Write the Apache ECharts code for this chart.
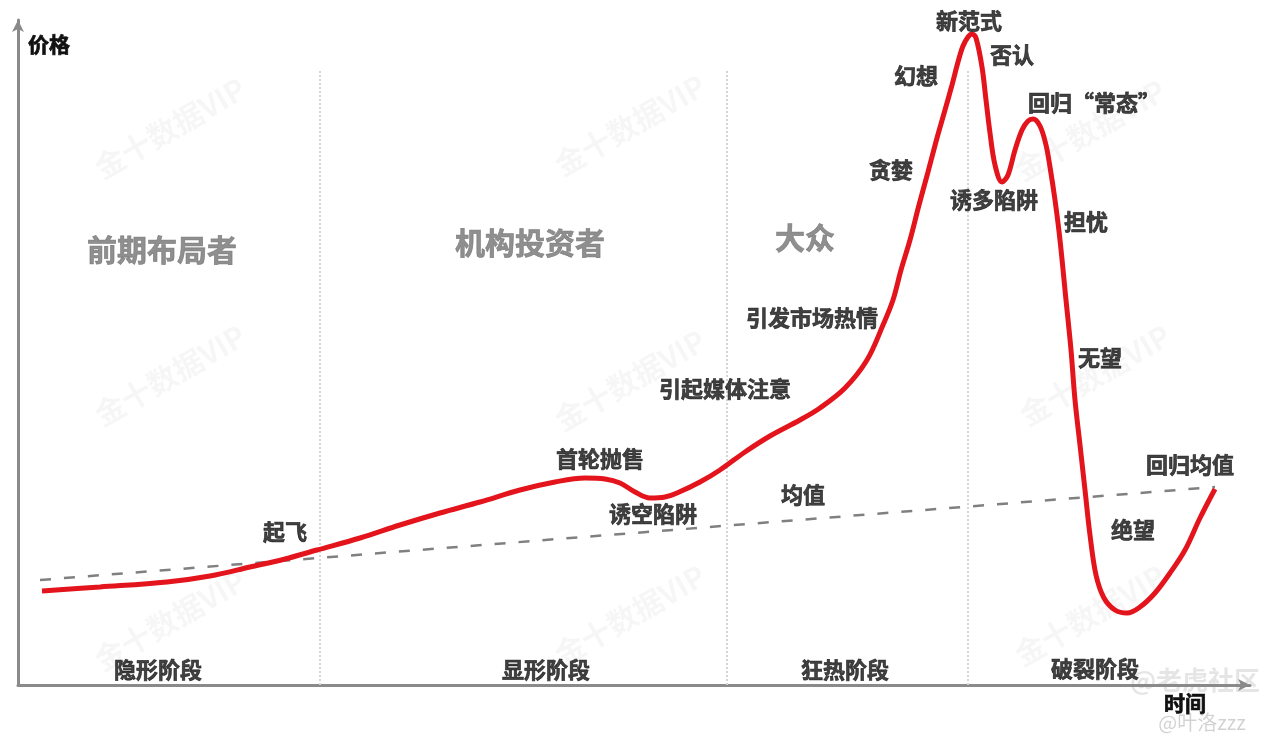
<!DOCTYPE html>
<html>
<head>
<meta charset="utf-8">
<script src="https://cdn.jsdelivr.net/npm/echarts@6/dist/echarts.min.js"></script>
<style>
html,body{margin:0;padding:0;background:#fff;}
#chart{width:1273px;height:751px;}
</style>
</head>
<body>
<div id="chart"></div>
<script>
// ---- data (time, price) in arbitrary units ----
var bubbleCurve = [
  [24,94],[82,98],[149,103],[192,109],[232,118],[267,126],[299,135],[342,147],
  [382,160],[422,172],[462,183],[502,195],[537,203],[567,207],[587,206],[602,202],
  [617,193],[632,187],[647,188],[659,192],[682,203],[702,215],[727,233],[752,249],
  [782,265],[802,277],[827,297],[849,325],[865,360],[875,385],[883,415],[892,445],
  [901,480],[910,513],[919,547],[927,575],[934,600],[940,623],[945,639],[950,648],
  [954,651],[958,647],
  [964,618],[968,585],[972,552],[977,520],[984,503],[990,510],[997,535],[1004,555],
  [1010,564],[1015,566],[1022,559],[1028,540],[1032,518],[1037,485],[1042,445],
  [1048,385],[1053,335],[1057,285],[1062,240],[1067,195],[1072,150],[1078,110],
  [1086,87],[1097,75],[1109,72],[1122,78],[1137,92],[1152,112],[1167,135],
  [1182,167],[1197,196]
];
var meanLine = [[22,105],[1197,198]];
var phaseBoundaries = [302, 709, 950];
var dividerTop = 615;

var stageNotes = [
  ['新范式',951,664],['否认',994,630],['幻想',898,609],['回归“常态”',1076,582],
  ['贪婪',873,515],['诱多陷阱',976,485],['担忧',1068,463],['引发市场热情',794,367],
  ['无望',1082,327],['引起媒体注意',707,296],['首轮抛售',582,226],['回归均值',1172,220],
  ['均值',785,190],['诱空陷阱',635,171],['起飞',267,153],['绝望',1115,155]
];
var participantGroups = [['前期布局者',144,435],['机构投资者',512,442],['大众',787,447]];
var phaseNames = [['隐形阶段',140,15],['显形阶段',528,15],['狂热阶段',827,15],['破裂阶段',1077,16]];

var FONT = '"Noto Sans CJK SC","Noto Sans",sans-serif';

function toItems(arr){ return arr.map(function(a){ return {name:a[0], value:[a[1],a[2]]}; }); }

var dividerData = [];
phaseBoundaries.forEach(function(x){ dividerData.push([x,0],[x,dividerTop],'-'); });

function labelSeries(items, size, color){
  return {
    type:'scatter', symbolSize:0, clip:false, silent:true, z:5,
    data:toItems(items),
    label:{show:true, position:'inside', formatter:'{b}',
      fontFamily:FONT, fontWeight:'bold', fontSize:size, color:color,
      textBorderColor:color, textBorderWidth:0.7}
  };
}

var watermarks = [[170,128],[630,125],[1090,130],[170,375],[630,380],[1095,375],[170,620],[630,615],[1090,615]];
var graphics = watermarks.map(function(p){
  return {type:'text', x:p[0], y:p[1], rotation:Math.PI/6, z:0, silent:true,
    style:{text:'金十数据VIP', fontFamily:FONT, fontSize:30, fontWeight:'bold',
      fill:'rgba(0,0,0,0.035)', textAlign:'center', textVerticalAlign:'middle'}};
});
graphics.push({type:'text', x:1195, y:680, silent:true, z:0,
  style:{text:'@老虎社区', fontFamily:FONT, fontSize:26, fontWeight:'bold',
    fill:'rgba(0,0,0,0.10)', textAlign:'center', textVerticalAlign:'middle'}});
graphics.push({type:'text', x:1202, y:722, silent:true, z:0,
  style:{text:'@叶洛zzz', fontFamily:FONT, fontSize:20,
    fill:'rgba(0,0,0,0.18)', textAlign:'center', textVerticalAlign:'middle'}});

var chart = echarts.init(document.getElementById('chart'));
chart.setOption({
  backgroundColor:'#fff',
  animation:false,
  grid:{left:18, right:23, top:20, bottom:66},
  xAxis:{type:'value', min:0, max:1232,
    name:'时间', nameLocation:'end', nameGap:-65,
    nameTextStyle:{fontFamily:FONT, fontWeight:'bold', fontSize:21, color:'#111',
      textBorderColor:'#111', textBorderWidth:0.7,
      align:'center', verticalAlign:'top', padding:[8,0,0,0]},
    axisLine:{show:true, symbol:['none','arrow'], symbolSize:[9,12], lineStyle:{color:'#8a8a8a', width:3}},
    axisTick:{show:false}, axisLabel:{show:false}, splitLine:{show:false}},
  yAxis:{type:'value', min:0, max:665,
    name:'价格', nameLocation:'end', nameGap:-24,
    nameTextStyle:{fontFamily:FONT, fontWeight:'bold', fontSize:21, color:'#111',
      textBorderColor:'#111', textBorderWidth:0.7,
      align:'left', verticalAlign:'middle', padding:[0,0,0,10]},
    axisLine:{show:true, symbol:['none','arrow'], symbolSize:[9,12], lineStyle:{color:'#8a8a8a', width:3}},
    axisTick:{show:false}, axisLabel:{show:false}, splitLine:{show:false}},
  graphic:graphics,
  series:[
    {type:'line', data:dividerData, symbol:'none', silent:true, z:1,
      connectNulls:false,
      lineStyle:{color:'#d4d4d4', width:2, type:'dotted'}},
    {type:'line', data:meanLine, symbol:'none', silent:true, z:2,
      lineStyle:{color:'#808080', width:2.5, type:[11,13]}},
    {type:'line', data:bubbleCurve, symbol:'none', smooth:0.35, silent:true, z:3,
      lineStyle:{color:'#e3141b', width:5}},
    labelSeries(stageNotes, 22, '#111'),
    labelSeries(participantGroups, 30, '#737373'),
    labelSeries(phaseNames, 22, '#111')
  ]
});
</script>
</body>
</html>
